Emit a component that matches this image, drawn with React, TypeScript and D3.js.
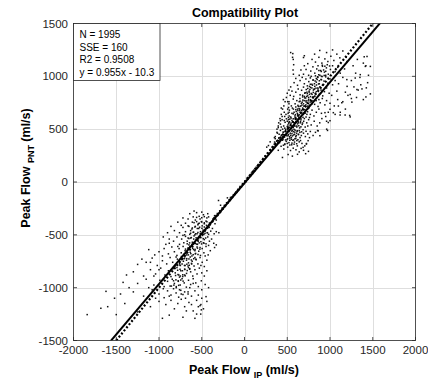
import React from 'react';
import * as d3 from 'd3';

const xTicks = [-2000, -1500, -1000, -500, 0, 500, 1000, 1500, 2000];
const yTicks = [-1500, -1000, -500, 0, 500, 1000, 1500];
const statsLines = ['N = 1995', 'SSE = 160', 'R2 = 0.9508', 'y = 0.955x - 10.3'];
const fitSlope = 0.955;
const fitIntercept = -10.3;

const upperCluster: [number, number][] = [
  [330,310],[362,345],[395,300],[410,372],[428,338],[445,395],[460,312],[472,360],[488,385],[505,330],[520,372],[538,298],[552,352],[570,320],[585,378],[602,305],[618,342],[640,285],[662,318],[690,300],[715,268],[748,290],[380,392],[352,378],[418,405],[455,348],[498,402],[530,415],[565,395],[590,410],[612,392],[640,380],[672,365],[705,342],
  [360,430],[385,462],[402,418],[420,488],[438,445],[452,472],[468,425],[482,498],[495,455],[510,438],[522,480],[535,462],[548,420],[560,490],[575,445],[588,472],[600,430],[618,485],[632,452],[648,470],[665,440],[690,462],[712,430],[740,455],[770,478],[802,440],[405,452],[445,500],[472,445],[505,495],[528,428],[555,458],[580,498],[610,462],[650,420],[685,495],[720,480],[760,420],[830,470],
  [512,520],[518,555],[515,590],[522,625],[510,650],[525,680],[516,705],[520,740],[514,610],[526,570],[508,540],[521,660],
  [395,515],[420,548],[440,590],[458,530],[475,565],[490,598],[505,512],[540,545],[555,582],[568,520],[582,560],[598,595],[612,530],[628,570],[645,512],[660,588],[675,545],[692,575],[710,520],[728,560],[750,590],[780,540],[815,575],[850,530],[880,560],[430,520],[465,582],[500,575],[548,505],[585,535],[620,550],[655,560],[700,600],[740,530],[470,510],[530,595],[600,572],[640,598],[905,600],[950,620],[1000,580],
  [440,620],[465,660],[485,640],[505,690],[540,615],[555,650],[572,690],[590,625],[605,668],[622,640],[638,695],[655,618],[670,660],[688,640],[705,685],[720,615],[738,665],[752,700],[770,640],[790,680],[812,625],[840,660],[870,690],[900,650],[560,700],[600,610],[645,675],[700,650],[760,610],[580,660],[620,690],[680,700],[730,640],[1060,640],[1120,660],[1180,690],[980,660],[1230,630],
  [520,760],[548,720],[570,785],[592,740],[612,770],[630,715],[648,790],[665,745],[682,775],[700,720],[716,795],[732,750],[750,780],[768,725],[785,760],[802,795],[820,735],[838,770],[860,715],[885,750],[910,790],[940,730],[600,710],[640,760],[690,740],[740,710],[790,740],[720,770],[660,720],[870,780],[960,770],[1000,745],[1050,720],[1090,780],[1150,760],[1250,790],[1310,800],[1390,780],[1420,805],
  [575,810],[600,850],[628,880],[650,825],[668,868],[690,898],[705,840],[722,875],[740,815],[756,860],[772,895],[790,830],[806,870],[822,810],[840,855],[858,890],[875,830],[895,870],[915,815],[935,855],[960,890],[990,840],[1020,820],[700,810],[760,830],[820,880],[880,900],[730,850],[680,820],[1080,860],[1180,850],[1280,900],[1330,870],[1210,820],[1360,920],
  [620,915],[650,960],[675,990],[700,930],[718,975],[735,910],[752,950],[770,985],[788,925],[805,965],[822,905],[840,945],[858,990],[875,930],[895,970],[912,915],[930,955],[950,995],[975,935],[1000,975],[1030,920],[780,1000],[840,980],[900,1000],[760,905],[1060,960],[1100,930],[1150,990],[1250,960],[1200,905],
  [690,1020],[720,1065],[750,1010],[775,1050],[800,1090],[822,1030],[845,1070],[868,1015],[890,1055],[912,1095],[935,1040],[958,1080],[980,1020],[1005,1065],[1030,1100],[1060,1045],[1090,1085],[860,1100],[950,1010],[1120,1030],[1170,1070],
  [740,1120],[790,1160],[830,1135],[870,1180],[905,1125],[940,1165],[975,1140],[1010,1190],[1045,1150],[1080,1210],[1115,1175],[1150,1240],[820,1210],[880,1245],[960,1225],[1030,1250],[700,1195],[1190,1180],
  [565,1215],[570,1160],[575,1110],[568,1060],[572,1020],[562,1180],[540,1225],[690,1178],[1320,1160],[1400,1185],[1420,1100],[1450,1010],[1390,1125],[1300,1030],[1440,940],[1350,990],[1270,1100],[1200,1140],
  [1118,634],[1177,634],[1236,616],[1098,719],[1138,750],[1256,756],[1236,828],[1315,875],[1374,881],[1425,891],[1472,834],[1413,1094],[1433,1188],[1472,1094],[1354,1016],[1295,984],[1197,969],
  [862,484],[882,438],[961,500],[744,391],[724,359],[685,328],[980,563],[941,656],[1000,688],[1039,656],[855,487],[971,488],[960,575],[725,364],[444,232],[510,260],[560,245],[620,262],
  [400,560],[415,600],[430,640],[445,690],[460,720],[475,760],[430,700],[455,780],[490,800],[500,840],[520,870],[540,900],[470,620],[420,580],[395,530],[380,500],[505,760],[535,820],[555,860],[580,940],[600,980],[640,1010],[660,1060],[700,1100],[380,470],[360,410]
];

const upperCore: [number, number][] = [
  [470,355],[500,365],[530,350],[555,368],[580,358],[610,362],
  [450,405],[480,398],[505,410],[530,395],[548,404],[575,398],[600,412],[625,400],[655,392],
  [470,445],[495,438],[515,450],[540,442],[560,436],[585,452],[605,440],[630,448],
  [480,485],[505,478],[528,490],[550,482],[570,476],[592,490],[615,480],[640,486],[668,475],
  [500,525],[525,518],[548,530],[570,515],[590,528],[612,520],[635,532],[660,522],
  [520,565],[545,558],[566,570],[588,556],[610,568],[632,560],[655,572],[680,558],
  [545,605],[570,598],[592,610],[615,596],[636,608],[660,600],[684,612],
  [570,645],[595,638],[618,650],[640,636],[662,648],[688,640],[712,652],
  [600,685],[624,676],[646,690],[668,678],[690,688],[714,676],[738,690],
  [625,725],[650,716],[672,728],[695,718],[718,730],[742,720],[766,728],
  [650,765],[675,756],[698,770],[720,758],[744,768],[768,756],[790,770],
  [680,805],[704,796],[726,810],[750,798],[772,808],[796,800],[820,812],
  [710,845],[734,836],[756,850],[780,838],[804,848],[828,840],
  [740,885],[765,876],[788,890],[812,878],[836,888],[860,880],
  [770,925],[795,916],[818,930],[842,918],[866,928],
  [800,965],[826,956],[850,970],[875,958],[900,968],
  [830,1005],[856,996],[882,1010],[908,998],[932,1008],
  [870,1055],[898,1046],[925,1060],[950,1048],
  [910,1105],[940,1096],[968,1110],[995,1098]
];

const lowerCluster: [number, number][] = [
  [-640,-300],[-600,-330],[-560,-290],[-520,-350],[-480,-310],[-450,-370],[-420,-330],[-395,-385],[-370,-350],[-345,-395],[-610,-380],[-575,-360],[-540,-395],[-505,-375],[-470,-395],[-660,-350],[-690,-390],[-430,-300],[-500,-285],[-590,-275],[-330,-360],[-350,-320],
  [-760,-480],[-720,-430],[-690,-470],[-660,-415],[-640,-495],[-615,-445],[-595,-475],[-575,-420],[-555,-490],[-535,-440],[-515,-470],[-495,-415],[-475,-495],[-455,-450],[-435,-480],[-415,-425],[-395,-465],[-375,-440],[-355,-490],[-330,-470],[-300,-480],[-740,-410],[-700,-500],[-630,-460],[-580,-500],[-545,-405],[-485,-455],[-445,-410],[-420,-495],[-820,-460],[-860,-420],
  [-830,-560],[-790,-520],[-760,-590],[-735,-540],[-710,-575],[-690,-515],[-670,-560],[-650,-595],[-630,-530],[-610,-570],[-590,-510],[-570,-550],[-550,-590],[-530,-525],[-510,-565],[-490,-505],[-470,-545],[-450,-585],[-430,-520],[-410,-560],[-385,-540],[-360,-580],[-330,-595],[-720,-505],[-660,-530],[-600,-590],[-540,-560],[-480,-575],[-420,-600],[-880,-540],[-920,-590],[-950,-520],[-350,-620],
  [-1000,-660],[-940,-630],[-890,-680],[-850,-615],[-820,-660],[-790,-695],[-765,-630],[-740,-670],[-718,-610],[-695,-650],[-675,-690],[-655,-625],[-635,-665],[-615,-700],[-595,-640],[-575,-680],[-555,-615],[-535,-655],[-515,-695],[-495,-630],[-475,-670],[-450,-610],[-425,-690],[-400,-650],[-780,-610],[-700,-700],[-640,-610],[-580,-650],[-520,-620],[-460,-700],[-1050,-690],[-1120,-640],
  [-1150,-760],[-1080,-720],[-1020,-790],[-960,-745],[-910,-775],[-870,-715],[-840,-760],[-810,-795],[-785,-730],[-760,-770],[-738,-705],[-715,-750],[-695,-790],[-675,-725],[-655,-765],[-635,-710],[-612,-750],[-590,-795],[-568,-730],[-545,-775],[-520,-715],[-495,-760],[-470,-800],[-440,-740],[-800,-710],[-750,-790],[-700,-720],[-660,-795],[-620,-770],[-580,-715],[-510,-790],[-1250,-780],[-1200,-730],
  [-1100,-830],[-1040,-870],[-980,-815],[-930,-880],[-890,-840],[-860,-895],[-835,-820],[-810,-860],[-790,-810],[-768,-880],[-745,-840],[-722,-895],[-700,-825],[-678,-865],[-655,-810],[-630,-850],[-605,-890],[-580,-830],[-555,-870],[-528,-815],[-500,-860],[-470,-890],[-440,-840],[-760,-900],[-700,-880],[-640,-820],[-1300,-850],[-1380,-880],[-1180,-890],
  [-1250,-960],[-1150,-920],[-1060,-975],[-990,-930],[-940,-990],[-900,-940],[-870,-985],[-845,-920],[-820,-960],[-798,-1000],[-775,-935],[-752,-975],[-730,-915],[-705,-955],[-680,-995],[-655,-930],[-630,-970],[-600,-915],[-570,-955],[-540,-990],[-505,-935],[-460,-970],[-420,-1000],[-1420,-950],[-1350,-1000],
  [-1620,-1035],[-1300,-1040],[-1180,-1080],[-1080,-1020],[-1000,-1060],[-940,-1095],[-900,-1030],[-860,-1070],[-830,-1010],[-800,-1050],[-770,-1090],[-745,-1025],[-720,-1065],[-690,-1100],[-660,-1040],[-620,-1080],[-580,-1030],[-540,-1070],[-500,-1020],[-450,-1085],
  [-1840,-1255],[-1680,-1195],[-1500,-1255],[-1400,-1150],[-1250,-1230],[-1100,-1180],[-1000,-1130],[-920,-1160],[-860,-1120],[-820,-1200],[-780,-1150],[-740,-1110],[-700,-1180],[-650,-1140],[-600,-1220],[-560,-1250],[-520,-1170],[-880,-1260],[-960,-1290],[-440,-1130],[-480,-1200],
  [-1520,-1100],[-1450,-1060],[-1600,-1180],[-510,-1160],[-505,-1210],[-512,-1250],[-500,-1100],
  [-760,-1020],[-700,-1040],[-640,-1000],[-600,-960],[-560,-1120],[-620,-1160],[-680,-1220],[-720,-1280],[-540,-1180],[-660,-1060],[-740,-1060],[-880,-1080],[-950,-1010],[-1040,-1100],[-1120,-1000],[-580,-1290],[-1060,-890],[-1000,-830],[-1100,-760],[-960,-700],[-880,-580],[-900,-480],[-780,-380],[-720,-340],[-650,-420]
];

const lowerCore: [number, number][] = [
  [-560,-335],[-530,-325],[-500,-338],[-470,-328],[-440,-340],
  [-590,-385],[-560,-375],[-530,-390],[-500,-378],[-470,-386],[-440,-376],[-410,-388],
  [-610,-435],[-580,-426],[-552,-440],[-525,-428],[-498,-438],[-470,-426],[-442,-436],[-414,-430],
  [-630,-485],[-600,-476],[-572,-490],[-545,-478],[-518,-488],[-490,-476],[-462,-486],[-434,-480],
  [-650,-535],[-622,-526],[-594,-540],[-566,-528],[-538,-538],[-510,-526],[-482,-536],[-454,-530],
  [-670,-585],[-642,-576],[-614,-590],[-586,-578],[-558,-588],[-530,-576],[-502,-586],[-474,-580],
  [-690,-635],[-662,-626],[-634,-640],[-606,-628],[-578,-638],[-550,-626],[-522,-636],
  [-712,-685],[-684,-676],[-656,-690],[-628,-678],[-600,-688],[-572,-676],[-544,-686],
  [-735,-735],[-706,-726],[-678,-740],[-650,-728],[-622,-738],[-594,-726],[-566,-736],
  [-758,-785],[-730,-776],[-702,-790],[-674,-778],[-646,-788],[-618,-776],
  [-782,-835],[-754,-826],[-726,-840],[-698,-828],[-670,-838],[-642,-826],
  [-806,-885],[-778,-876],[-750,-890],[-722,-878],[-694,-888],
  [-830,-935],[-802,-926],[-774,-940],[-746,-928],[-718,-938],
  [-855,-985],[-826,-976],[-798,-990],[-770,-978]
];

const bridgePoints: [number, number][] = [
  [-360,-340],[-345,-318],[-330,-322],[-318,-298],[-305,-300],[-290,-272],[-278,-280],[-262,-246],[-250,-252],[-236,-222],[-222,-220],[-210,-196],[-196,-198],[-182,-170],[-170,-176],[-156,-146],[-142,-148],[-130,-120],[-116,-122],[-102,-94],[-90,-98],[-76,-68],[-62,-72],[-50,-42],[-36,-46],[-22,-16],[-10,-20],[4,8],[16,2],[30,34],[42,28],[56,60],[70,54],[82,86],[96,80],[108,112],[122,106],[136,140],[148,134],[162,166],[176,160],[188,194],[202,188],[216,222],[228,214],[242,248],[256,240],[268,274],[282,266],[296,302],[308,294],[322,330],[336,320],[348,358],[362,348],[376,386],[388,372],[402,414],[416,400],[430,442],[442,428],[456,470],
  [-304,-175],[-164,-147],[-280,-220],[-200,-150],[280,345],[300,380],[350,420],[260,330]
];

export default function App() {
  const W = 428, H = 380;
  const left = 73.5, right = 415.5, top = 23.5, bottom = 340.5;
  const x = d3.scaleLinear().domain([-2000, 2000]).range([left, right]);
  const y = d3.scaleLinear().domain([-1500, 1500]).range([bottom, top]);
  const axisColor = '#262626';
  const font = '"Liberation Sans", Arial, Helvetica, sans-serif';
  const allPts = [...upperCluster, ...upperCore, ...lowerCluster, ...lowerCore, ...bridgePoints];
  const lineGen = d3.line<number>().x(d => x(d)).y(d => y(fitSlope * d + fitIntercept));
  const idGen = d3.line<number>().x(d => x(d)).y(d => y(d));
  const xs = [-2000, 2000];
  const tl = 3.5;
  return (
    <svg width={W} height={H} style={{ position: 'absolute', left: 0, top: 0, background: '#fff' }} fontFamily={font}>
      <defs>
        <clipPath id="plotclip"><rect x={left} y={top} width={right - left} height={bottom - top} /></clipPath>
      </defs>
      <rect x={0} y={0} width={W} height={H} fill="#fff" />
      <g stroke="#dedede" strokeWidth={1}>
        {xTicks.slice(1, -1).map(t => <line key={'gx' + t} x1={Math.round(x(t)) + 0.5} x2={Math.round(x(t)) + 0.5} y1={top} y2={bottom} />)}
        {yTicks.slice(1, -1).map(t => <line key={'gy' + t} y1={Math.round(y(t)) + 0.5} y2={Math.round(y(t)) + 0.5} x1={left} x2={right} />)}
      </g>
      <g clipPath="url(#plotclip)" fill="#111">
        {allPts.map((p, i) => <rect key={i} x={x(p[0]) - 0.75} y={y(p[1]) - 0.75} width={1.5} height={1.5} />)}
      </g>
      <g clipPath="url(#plotclip)" fill="none" stroke="#000">
        <path d={idGen(xs) || ''} strokeWidth={2.2} strokeDasharray="2,2" />
        <path d={lineGen(xs) || ''} strokeWidth={2} />
      </g>
      <rect x={left} y={top} width={right - left} height={bottom - top} fill="none" stroke={axisColor} strokeWidth={0.8} />
      <g stroke={axisColor} strokeWidth={0.8}>
        {xTicks.map(t => (
          <g key={'tx' + t}>
            <line x1={x(t)} x2={x(t)} y1={bottom} y2={bottom - tl} />
            <line x1={x(t)} x2={x(t)} y1={top} y2={top + tl} />
          </g>
        ))}
        {yTicks.map(t => (
          <g key={'ty' + t}>
            <line y1={y(t)} y2={y(t)} x1={left} x2={left + tl} />
            <line y1={y(t)} y2={y(t)} x1={right} x2={right - tl} />
          </g>
        ))}
      </g>
      <g fill={axisColor} fontSize={11.5}>
        {xTicks.map(t => <text key={'lx' + t} x={x(t)} y={354} textAnchor="middle">{t}</text>)}
        {yTicks.map(t => <text key={'ly' + t} x={68} y={y(t) + 4} textAnchor="end">{t}</text>)}
      </g>
      <text x={245} y={17} textAnchor="middle" fontSize={12.5} fontWeight="bold" fill="#000">Compatibility Plot</text>
      <text x={244} y={374} textAnchor="middle" fontSize={12.5} fontWeight="bold" fill="#000">
        Peak Flow <tspan fontSize={9} dy={4}>IP</tspan><tspan dy={-4}> (ml/s)</tspan>
      </text>
      <text transform="translate(30,168) rotate(-90)" textAnchor="middle" fontSize={12.5} fontWeight="bold" fill="#000">
        Peak Flow <tspan fontSize={9} dy={4}>PNT</tspan><tspan dy={-4}> (ml/s)</tspan>
      </text>
      <rect x={left} y={top} width={86.5} height={57} fill="#fff" stroke={axisColor} strokeWidth={0.8} />
      <g fontSize={10} fill="#000">
        {statsLines.map((s, i) => <text key={s} x={79.5} y={38 + i * 12.6}>{s}</text>)}
      </g>
    </svg>
  );
}
